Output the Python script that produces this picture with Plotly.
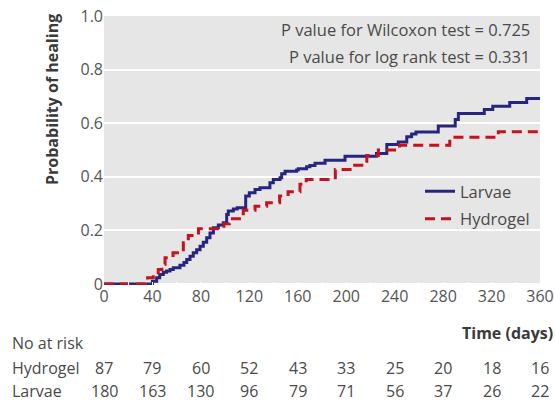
import plotly.graph_objects as go

# ---- data ----
larvae_days = [0, 38, 40, 43.5, 46, 49, 51.7, 54.5, 57.2, 62.7, 66, 68.3, 71, 73.7, 76.5, 79.3, 82,
               84.8, 87.5, 90.3, 94.4, 98.5, 101.3, 102.6, 106.8, 110, 117, 120, 124.7, 128.8, 137,
               139.8, 145.3, 146.7, 149.5, 159, 160.4, 167.3, 170, 174.2, 182.5, 199, 225, 233.5,
               243, 250, 254, 257.6, 276, 290, 292.6, 314, 321, 335, 349, 360]
larvae_prob = [0, 0, 0.01, 0.023, 0.035, 0.044, 0.048, 0.054, 0.06, 0.07, 0.08, 0.091, 0.103, 0.116,
               0.128, 0.141, 0.156, 0.172, 0.19, 0.21, 0.22, 0.228, 0.259, 0.272, 0.28, 0.284, 0.328,
               0.34, 0.352, 0.359, 0.378, 0.39, 0.396, 0.411, 0.421, 0.425, 0.43, 0.437, 0.442, 0.45,
               0.462, 0.477, 0.487, 0.52, 0.53, 0.549, 0.56, 0.567, 0.589, 0.614, 0.636, 0.651, 0.663,
               0.677, 0.692, 0.692]

hydrogel_days = [0, 34, 36, 40.7, 44.8, 47.8, 50.4, 57, 65.5, 69.6, 78, 99, 103.5, 115, 124.7, 134.3,
                 145, 152, 161.8, 167, 191, 207, 217, 226.5, 244, 285.5, 325.6, 360]
hydrogel_prob = [0, 0.01, 0.023, 0.042, 0.054, 0.073, 0.098, 0.116, 0.154, 0.181, 0.206, 0.225, 0.243,
                 0.275, 0.29, 0.303, 0.328, 0.344, 0.372, 0.39, 0.427, 0.443, 0.479, 0.5, 0.518, 0.547,
                 0.568, 0.568]

risk_times = [0, 40, 80, 120, 160, 200, 240, 280, 320, 360]
risk_hydrogel = [87, 79, 60, 52, 43, 33, 25, 20, 18, 16]
risk_larvae = [180, 163, 130, 96, 79, 71, 56, 37, 26, 22]

y_ticks = [0, 0.2, 0.4, 0.6, 0.8, 1.0]
y_tick_labels = ["0", "0.2", "0.4", "0.6", "0.8", "1.0"]

p_texts = ["P value for Wilcoxon test = 0.725", "P value for log rank test = 0.331"]

FONT = "Open Sans"
BLUE = "#262680"
RED = "#c4121f"
TXT = "#4a4a4a"
TITLE = "#3a3a3a"

# plot area in pixels: left 104, right 540, top 16, bottom 285
L, R, T, B = 104, 540, 16, 285
PW, PH = R - L, B - T


def px_y(py):
    return (B - py) / PH


def px_x(px):
    return (px - L) / PW


fig = go.Figure()
fig.add_trace(go.Scatter(x=larvae_days, y=larvae_prob, mode="lines", line_shape="hv",
                         name="Larvae", legendgroup="a",
                         line=dict(color=BLUE, width=3)))
fig.add_trace(go.Scatter(x=hydrogel_days, y=hydrogel_prob, mode="lines", line_shape="hv",
                         name="Hydrogel", legendgroup="b",
                         line=dict(color=RED, width=3, dash="10px,6px")))

annotations = []
for t, py in zip(p_texts, [29.5, 56]):
    annotations.append(dict(text=t, xref="paper", yref="paper", x=px_x(532), y=px_y(py),
                            xanchor="right", yanchor="middle", showarrow=False,
                            font=dict(family=FONT, size=16.5, color=TXT)))

annotations.append(dict(text="<b>Probability of healing</b>", xref="paper", yref="paper",
                        x=px_x(52), y=px_y(100), textangle=-90,
                        xanchor="center", yanchor="middle", showarrow=False,
                        font=dict(family=FONT, size=16, color=TITLE)))
annotations.append(dict(text="<b>Time (days)</b>", xref="paper", yref="paper",
                        x=px_x(555), y=px_y(333),
                        xanchor="right", yanchor="middle", showarrow=False,
                        font=dict(family=FONT, size=16, color=TITLE)))
annotations.append(dict(text="No at risk", xref="paper", yref="paper",
                        x=px_x(10), y=px_y(343),
                        xanchor="left", yanchor="middle", showarrow=False,
                        font=dict(family=FONT, size=16, color=TXT)))
for label, vals, ypix in [("Hydrogel", risk_hydrogel, 368), ("Larvae", risk_larvae, 391)]:
    annotations.append(dict(text=label, xref="paper", yref="paper", x=px_x(10), y=px_y(ypix),
                            xanchor="left", yanchor="middle", showarrow=False,
                            font=dict(family=FONT, size=16, color=TXT)))
    for t, v in zip(risk_times, vals):
        annotations.append(dict(text=str(v), xref="x", yref="paper", x=t, y=px_y(ypix),
                                xanchor="center", yanchor="middle", showarrow=False,
                                font=dict(family=FONT, size=16, color=TXT)))

fig.update_layout(
    width=555, height=401,
    margin=dict(l=L, r=555 - R, t=T, b=401 - B, autoexpand=False),
    paper_bgcolor="white", plot_bgcolor="#e6e6e6",
    font=dict(family=FONT, size=16, color=TXT),
    showlegend=True,
    legend=dict(x=px_x(420), y=px_y(174), xanchor="left", yanchor="top", bgcolor="rgba(0,0,0,0)",
                traceorder="grouped", tracegroupgap=3,
                font=dict(family=FONT, size=16.5, color=TXT)),
    annotations=annotations,
    xaxis=dict(range=[0, 360], tickvals=risk_times, ticktext=[str(t) for t in risk_times],
               showgrid=False, zeroline=False, showline=False, automargin=False,
               ticks="inside", ticklen=3, tickwidth=1, tickcolor="white",
               minor=dict(dtick=20, tick0=0, ticks="inside", ticklen=3, tickcolor="white"),
               tickfont=dict(family=FONT, size=16, color="#555555")),
    yaxis=dict(range=[-0.004, 1.0], tickvals=y_ticks, ticktext=y_tick_labels,
               showgrid=True, gridcolor="white", gridwidth=2, zeroline=False, showline=False,
               automargin=False, ticks="",
               tickfont=dict(family=FONT, size=16, color="#555555")),
)

fig.write_html("out.html", config={"displayModeBar": False},
               post_script="document.body.style.margin='0';")
